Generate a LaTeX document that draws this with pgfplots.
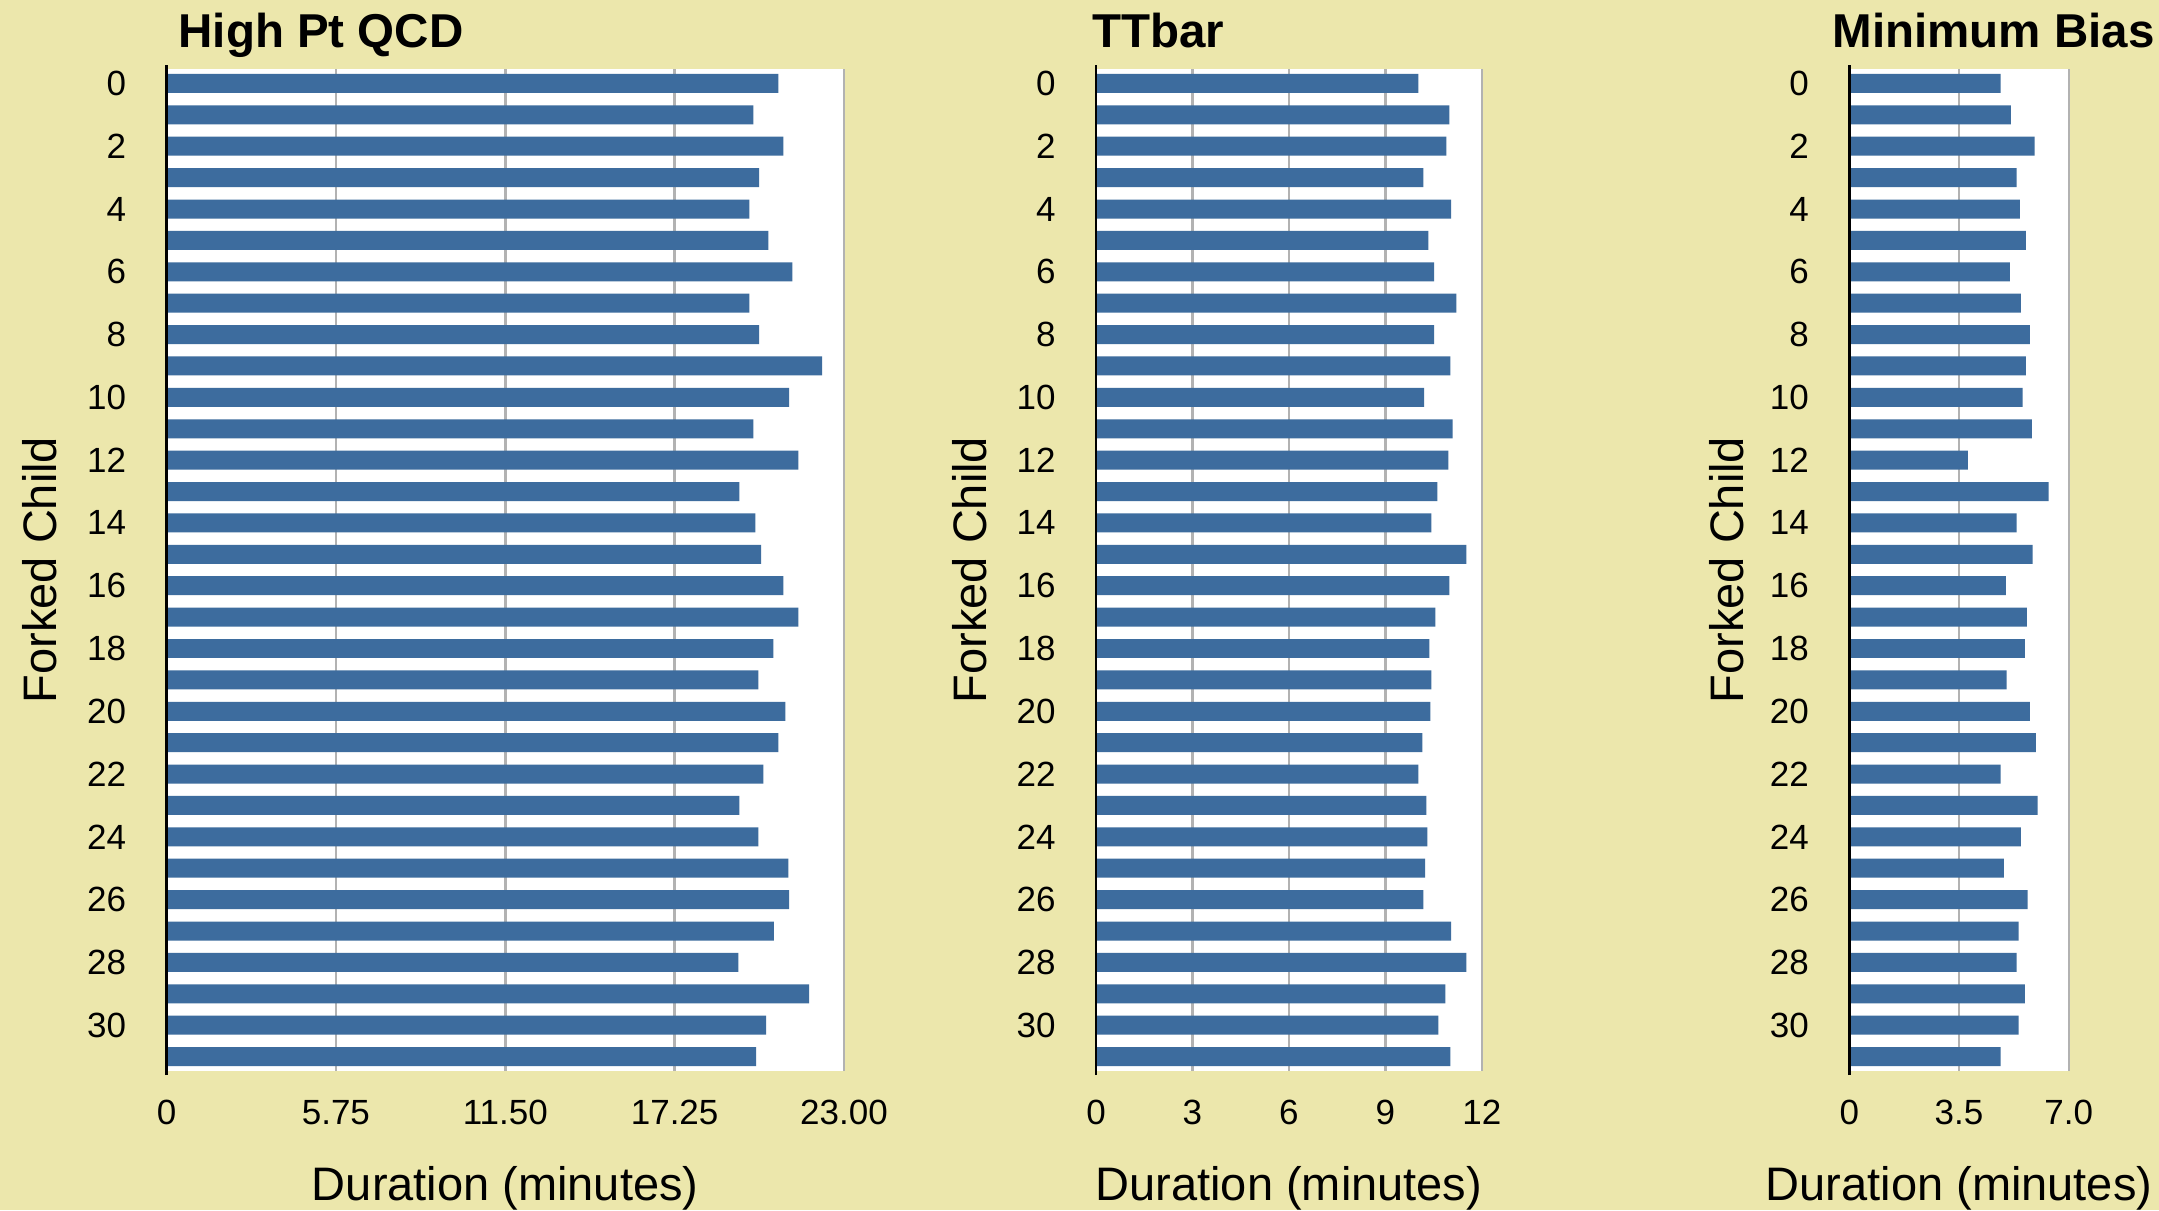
\documentclass[border=0pt]{standalone}
\usepackage{pgfplots}
\pgfplotsset{compat=1.18}
\usepackage{fontspec}
\setmainfont{Liberation Sans}
\definecolor{bgc}{RGB}{236,231,172}
\definecolor{barc}{RGB}{61,108,158}
\definecolor{gridc}{RGB}{178,178,178}

\pgfplotstableread{
idx qcd ttbar minbias
0 20.77 10.03 4.83
1 19.92 10.99 5.15
2 20.94 10.90 5.91
3 20.12 10.18 5.34
4 19.79 11.05 5.44
5 20.43 10.34 5.63
6 21.25 10.52 5.12
7 19.79 11.21 5.47
8 20.12 10.52 5.76
9 22.26 11.02 5.63
10 21.14 10.21 5.53
11 19.92 11.09 5.82
12 21.45 10.96 3.78
13 19.45 10.62 6.36
14 19.99 10.43 5.34
15 20.19 11.52 5.85
16 20.94 10.99 4.99
17 21.45 10.56 5.66
18 20.60 10.37 5.60
19 20.09 10.43 5.02
20 21.01 10.40 5.76
21 20.77 10.15 5.95
22 20.26 10.03 4.83
23 19.45 10.28 6.01
24 20.09 10.31 5.47
25 21.11 10.24 4.93
26 21.14 10.18 5.69
27 20.62 11.05 5.40
28 19.41 11.52 5.34
29 21.82 10.87 5.60
30 20.36 10.65 5.40
31 20.02 11.02 4.83
}\datatable

\pgfplotsset{
  panel/.style={
    scale only axis,
    anchor=north west,
    height=400.8pt,
    xbar, bar width=0.605,
    y dir=reverse,
    ymin=-0.46, ymax=31.46,
    ytick={0,2,...,30},
    xmin=0,
    axis background/.style={fill=white},
    axis line style={draw=none},
    major tick length=0pt,
    xmajorgrids,
    grid style={draw=gridc, line width=1pt},
    /pgf/number format/assume math mode=true,
    tick label style={font=\fontsize{14}{16}\selectfont},
    yticklabel style={anchor=east, inner sep=0pt, xshift=-16pt},
    xticklabel style={anchor=north, inner sep=0pt, yshift=-11.6pt},
    label style={font=\fontsize{18.8}{22}\selectfont},
    xlabel={Duration (minutes)},
    xlabel style={at={([yshift=-51.6pt]axis description cs:0.5,0)}, anchor=base, inner sep=0pt},
    ylabel={Forked Child},
    ylabel style={at={([xshift=-43.8pt]axis description cs:0,0.5)}, anchor=base, inner sep=0pt},
    every axis title/.style={font=\bfseries\fontsize{19}{22}\selectfont, anchor=base west, inner sep=0pt},
    extra description/.code={
      \draw[black, line width=1.1pt] (axis description cs:0,-0.004) -- (axis description cs:0,1.004);
    },
  },
}

\begin{document}
\begin{tikzpicture}
\path[use as bounding box, fill=bgc] (0,0) rectangle (863.6pt,-484pt);

\begin{axis}[panel,
  at={(66.6pt,-27.6pt)}, width=271pt,
  xmax=23, xtick={0,5.75,11.5,17.25,23},
  xticklabels={0,5.75,11.50,17.25,23.00},
  title={High Pt QCD},
  title style={at={([xshift=4.6pt,yshift=8.8pt]axis description cs:0,1)}},
]
\addplot[fill=barc, draw=none] table[x=qcd, y=idx] {\datatable};
\end{axis}

\begin{axis}[panel,
  at={(438.4pt,-27.6pt)}, width=154.3pt,
  xmax=12, xtick={0,3,6,9,12},
  xticklabels={0,3,6,9,12},
  title={TTbar},
  title style={at={([xshift=-1.6pt,yshift=8.8pt]axis description cs:0,1)}},
]
\addplot[fill=barc, draw=none] table[x=ttbar, y=idx] {\datatable};
\end{axis}

\begin{axis}[panel,
  at={(739.7pt,-27.6pt)}, width=87.8pt,
  xmax=7, xtick={0,3.5,7},
  xticklabels={0,3.5,7.0},
  title={Minimum Bias},
  title style={at={([xshift=-6.9pt,yshift=8.8pt]axis description cs:0,1)}},
  ylabel style={at={([xshift=-42.5pt]axis description cs:0,0.5)}},
]
\addplot[fill=barc, draw=none] table[x=minbias, y=idx] {\datatable};
\end{axis}
\end{tikzpicture}
\end{document}
